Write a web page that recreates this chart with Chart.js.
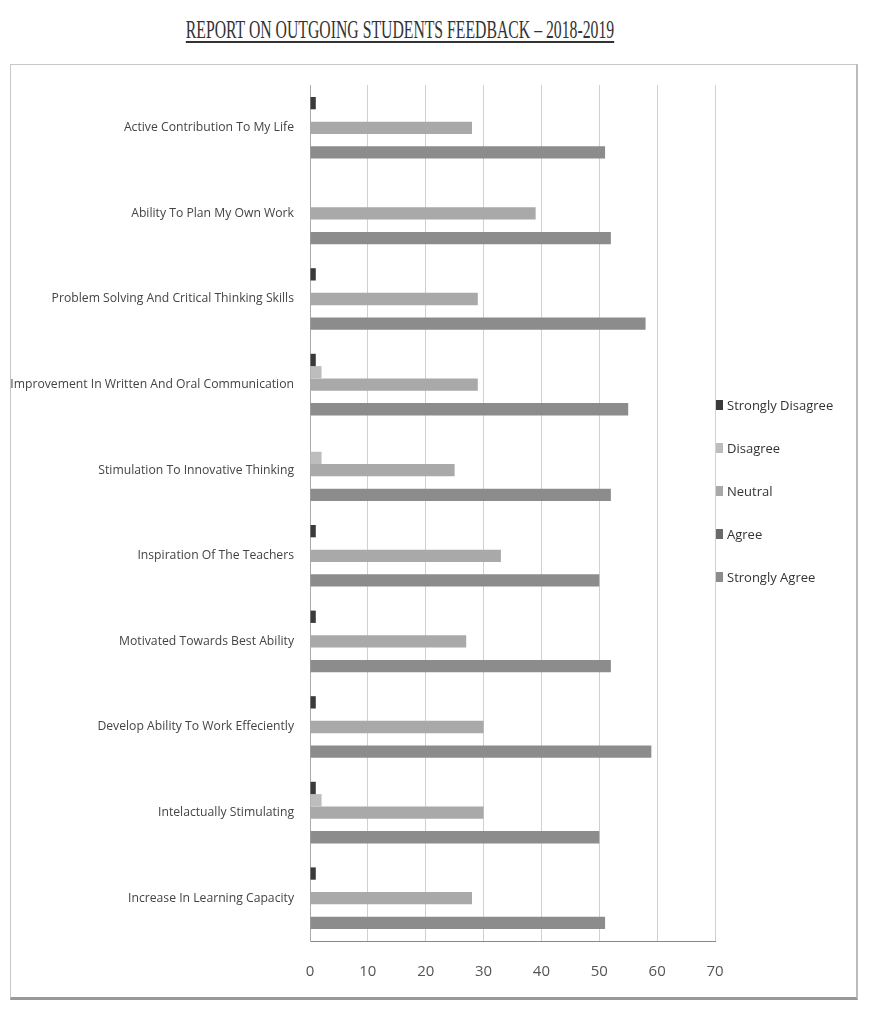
<!DOCTYPE html>
<html>
<head>
<meta charset="utf-8">
<script src="https://cdn.jsdelivr.net/npm/chart.js@4"></script>
<style>
  html, body { margin: 0; padding: 0; background: #fff; }
  body { width: 882px; height: 1017px; position: relative; overflow: hidden; }
  #title {
    position: absolute; left: 0; top: 16px; width: 800px; text-align: center;
    font-family: "Liberation Serif", "DejaVu Serif", serif; font-size: 25px; color: #333;
  }
  #title span { display: inline-block; transform: scaleX(0.63); transform-origin: center; text-decoration: underline; text-decoration-thickness: 2px; text-underline-offset: 3px; }
  #frame {
    position: absolute; left: 10px; top: 64px; width: 848px; height: 936px;
    border: 1px solid #c8c8c8; border-bottom: 3px solid #999; border-right: 2px solid #bbb;
    box-sizing: border-box;
  }
  #wrap { position: absolute; left: 0; top: 0; width: 857px; height: 950px; }
  #legend {
    position: absolute; left: 716px; top: 393px; margin: 0; padding: 0; list-style: none;
    font-family: "Open Sans", sans-serif; font-size: 13px; color: #333;
  }
  #legend li { height: 43px; line-height: 24px; display: flex; align-items: flex-start; }
  #legend li i { display: inline-block; width: 7px; height: 10px; margin: 7px 4px 0 0; }
</style>
</head>
<body>
<div id="title"><span>REPORT ON OUTGOING STUDENTS FEEDBACK – 2018-2019</span></div>
<div id="frame"></div>
<div style="position:absolute;left:0px;top:65px;"><div id="wrap"><canvas id="c"></canvas></div></div>
<ul id="legend"></ul>
<script>
const categories = [
  "Active Contribution To My Life",
  "Ability To Plan My Own Work",
  "Problem Solving And Critical Thinking Skills",
  "Improvement In Written And Oral Communication",
  "Stimulation To Innovative Thinking",
  "Inspiration Of The Teachers",
  "Motivated Towards Best Ability",
  "Develop Ability To Work Effeciently",
  "Intelactually Stimulating",
  "Increase In Learning Capacity"
];
const seriesNames = ["Strongly Disagree", "Disagree", "Neutral", "Agree", "Strongly Agree"];
const stronglyDisagree = [1, 0, 1, 1, 0, 1, 1, 1, 1, 1];
const disagree         = [0, 0, 0, 2, 2, 0, 0, 0, 2, 0];
const neutral          = [28, 39, 29, 29, 25, 33, 27, 30, 30, 28];
const agree            = [0, 0, 0, 0, 0, 0, 0, 0, 0, 0];
const stronglyAgree    = [51, 52, 58, 55, 52, 50, 52, 59, 50, 51];
const xTicks = [0, 10, 20, 30, 40, 50, 60, 70];

const colors = ["#3a3a3a", "#bdbdbd", "#a9a9a9", "#6a6a6a", "#8c8c8c"];
const values = [stronglyDisagree, disagree, neutral, agree, stronglyAgree];

const legendEl = document.getElementById("legend");
seriesNames.forEach((n, i) => {
  const li = document.createElement("li");
  const sw = document.createElement("i");
  sw.style.background = colors[i];
  li.appendChild(sw);
  li.appendChild(document.createTextNode(n));
  legendEl.appendChild(li);
});

new Chart(document.getElementById("c"), {
  type: "bar",
  data: {
    labels: categories,
    datasets: seriesNames.map((n, i) => ({
      label: n,
      data: values[i],
      backgroundColor: colors[i],
      borderWidth: 0,
      categoryPercentage: 0.72,
      barPercentage: 1.0
    }))
  },
  options: {
    indexAxis: "y",
    responsive: true,
    maintainAspectRatio: false,
    animation: false,
    layout: { padding: { left: 0, right: 142, top: 20, bottom: 12 } },
    scales: {
      x: {
        min: 0, max: 70,
        afterBuildTicks: (axis) => { axis.ticks = xTicks.map(v => ({ value: v })); },
        grid: { color: "#d0d0d0", drawTicks: false },
        border: { color: "#888" },
        ticks: { color: "#555", padding: 22, font: { family: "Open Sans, sans-serif", size: 15 } }
      },
      y: {
        afterFit: (s) => { s.width = 310; },
        grid: { display: false },
        border: { color: "#aaa" },
        ticks: { color: "#444", padding: 8, font: { family: "Open Sans, sans-serif", size: 12.2 } }
      }
    },
    plugins: {
      legend: { display: false },
      tooltip: { enabled: false }
    }
  }
});
</script>
</body>
</html>
